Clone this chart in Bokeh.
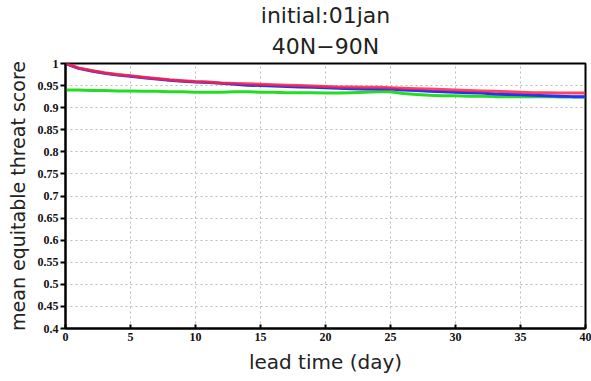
from bokeh.plotting import figure
from bokeh.embed import file_html
from bokeh.resources import INLINE
from bokeh.models import Title, FixedTicker, CustomJSTickFormatter, Range1d

days = list(range(0, 41))
red = [1.0, 0.990, 0.984, 0.979, 0.975, 0.972, 0.969, 0.966, 0.963, 0.961,
       0.959, 0.958, 0.956, 0.955, 0.954, 0.953, 0.952, 0.951, 0.950, 0.949,
       0.948, 0.947, 0.947, 0.946, 0.946, 0.945, 0.944, 0.943, 0.942, 0.941,
       0.940, 0.939, 0.938, 0.937, 0.936, 0.935, 0.934, 0.934, 0.933, 0.933, 0.933]
blue = [1.0, 0.989, 0.983, 0.978, 0.974, 0.971, 0.968, 0.965, 0.962, 0.960,
        0.958, 0.957, 0.955, 0.953, 0.951, 0.950, 0.949, 0.948, 0.947, 0.946,
        0.945, 0.944, 0.943, 0.942, 0.942, 0.942, 0.940, 0.939, 0.937, 0.936,
        0.935, 0.934, 0.933, 0.931, 0.930, 0.929, 0.928, 0.927, 0.926, 0.925, 0.925]
green = [0.940, 0.940, 0.939, 0.939, 0.938, 0.938, 0.937, 0.937, 0.936, 0.936,
         0.935, 0.935, 0.935, 0.936, 0.936, 0.935, 0.935, 0.934, 0.934, 0.934,
         0.933, 0.933, 0.934, 0.935, 0.936, 0.936, 0.932, 0.930, 0.928, 0.927,
         0.927, 0.926, 0.926, 0.925, 0.925, 0.925, 0.925, 0.925, 0.924, 0.924, 0.924]
x_ticks = [0, 5, 10, 15, 20, 25, 30, 35, 40]
y_ticks = [0.4, 0.45, 0.5, 0.55, 0.6, 0.65, 0.7, 0.75, 0.8, 0.85, 0.9, 0.95, 1.0]
title_lines = ["initial:01jan", "40N\u221290N"]

FONT = "DejaVu Sans"
TICKFONT = "Liberation Sans Narrow"

p = figure(width=591, height=381, output_backend="svg", toolbar_location=None,
           x_range=Range1d(0, 40), y_range=Range1d(0.4, 1.0),
           min_border_left=65, min_border_right=6, min_border_top=62, min_border_bottom=53)

p.title = None
# add lines bottom-up: the first title added sits closest to the frame
for i, line in enumerate(reversed(title_lines)):
    t = Title(text=line, align="center", text_font=FONT, text_font_size="22px",
              text_font_style="normal", text_color="#222222", offset=0,
              standoff=9 if i == 0 else 0)
    p.add_layout(t, "above")

p.line(days, green, line_color="#22dd22", line_width=3)
p.line(days, blue, line_color="#2233ff", line_width=3)
p.line(days, red, line_color="#ff2244", line_width=3, line_alpha=0.85)

p.xaxis.ticker = FixedTicker(ticks=x_ticks)
p.yaxis.ticker = FixedTicker(ticks=y_ticks)
p.yaxis.formatter = CustomJSTickFormatter(code="return (Math.round(tick*100)/100).toString();")
p.xaxis.axis_label = "lead time (day)"
p.yaxis.axis_label = "mean equitable threat score"
for ax in (p.xaxis[0], p.yaxis[0]):
    ax.axis_label_text_font = FONT
    ax.axis_label_text_font_size = "19px"
    ax.axis_label_text_font_style = "normal"
    ax.axis_label_text_color = "#222222"
    ax.major_label_text_font = TICKFONT
    ax.major_label_text_font_size = "12px"
    ax.major_label_text_font_style = "bold"
    ax.major_label_text_color = "#111111"
    ax.axis_line_color = "black"
    ax.axis_line_width = 2
    ax.major_tick_line_color = "black"
    ax.major_tick_line_width = 2
    ax.minor_tick_line_color = None
p.xaxis.axis_label_text_font_size = "20px"
p.xaxis.major_tick_in = 4
p.xaxis.major_tick_out = 0
p.xaxis.major_label_standoff = 4
p.xaxis.axis_label_standoff = 6
p.yaxis.major_tick_in = 0
p.yaxis.major_tick_out = 5
p.yaxis.major_label_standoff = 2
p.yaxis.axis_label_standoff = 6

p.outline_line_color = "black"
p.outline_line_width = 2
p.xgrid.grid_line_color = "#bbbbbb"
p.ygrid.grid_line_color = "#bbbbbb"
p.xgrid.grid_line_dash = "2 3"
p.ygrid.grid_line_dash = "2 3"
p.background_fill_color = "white"
p.border_fill_color = "white"

open("out.html", "w").write(file_html(p, INLINE))
